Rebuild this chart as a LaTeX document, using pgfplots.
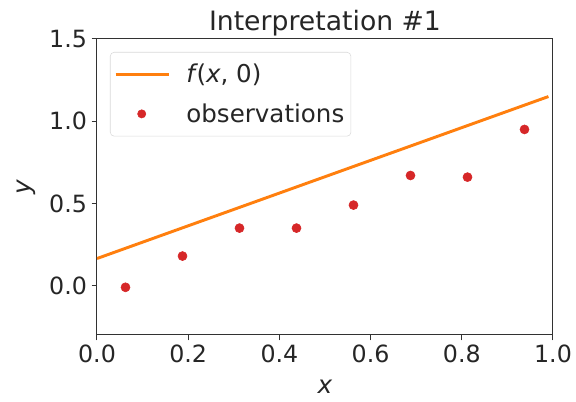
\documentclass[border=0pt]{standalone}
\usepackage{fontspec}
\setmainfont{DejaVu Sans}
\usepackage{pgfplots}
\pgfplotsset{compat=1.18}

\definecolor{lineorange}{RGB}{255,127,14}
\definecolor{dotred}{RGB}{214,39,40}
\definecolor{spinegray}{RGB}{50,50,50}

\begin{document}
\begin{tikzpicture}
\begin{axis}[
    at={(0,0)}, anchor=south west,
    scale only axis,
    width=342pt, height=222pt,
    xmin=0, xmax=1, ymin=-0.3, ymax=1.5,
    xtick={0,0.2,0.4,0.6,0.8,1.0},
    ytick={0,0.5,1.0,1.5},
    xticklabel style={/pgf/number format/fixed,/pgf/number format/fixed zerofill,/pgf/number format/precision=1},
    yticklabel style={/pgf/number format/fixed,/pgf/number format/fixed zerofill,/pgf/number format/precision=1},
    /pgf/number format/assume math mode=true,
    ticklabel style={font=\fontsize{17.8}{21}\selectfont, text=black!85},
    tick align=outside,
    tick pos=left,
    major tick length=4pt,
    tick style={spinegray, line width=0.75pt},
    axis line style={spinegray, line width=0.75pt},
    title={Interpretation \#1},
    title style={font=\fontsize{20}{24}\selectfont, text=black!85, at={(0.5,1)}, anchor=base, yshift=0.5pt},
    xlabel={\textit{x}},
    ylabel={\textit{y}},
    label style={font=\fontsize{18.5}{22}\selectfont, text=black!85},
    xlabel style={yshift=-6pt},
    ylabel style={yshift=3pt},
    legend style={
      at={(0,1)}, anchor=north west, xshift=9.75pt, yshift=-9.75pt,
      draw=black!15, rounded corners=3pt, fill=white, fill opacity=0.8, text opacity=1,
      font=\fontsize{18.4}{22}\selectfont, text=black!85,
      row sep=10pt, inner xsep=3pt, inner ysep=7pt,
      legend cell align=left,
    },
    legend image code/.code={
      \draw[#1] (0pt,0pt) -- (40pt,0pt);
      \path[draw=none] (0pt,0pt) -- (51pt,0pt);
    },
  ]
  \addplot[lineorange, line width=2.2pt] coordinates {(0,0.165) (0.99,1.150)};
  \addlegendentry{\textit{f}\kern-1.2pt(\textit{x}, 0)}
  \addplot[only marks, mark=*, mark size=3.4pt, dotred, mark options={draw=dotred, fill=dotred},
    legend image code/.code={
      \fill[dotred, fill opacity=1] (19.5pt,0pt) circle (3.1pt);
      \path[draw=none] (0pt,0pt) -- (51pt,0pt);
    }] coordinates {
    (0.0625,-0.01) (0.1875,0.18) (0.3125,0.35) (0.4375,0.35)
    (0.5625,0.49) (0.6875,0.67) (0.8125,0.66) (0.9375,0.95)};
  \addlegendentry{observations}
\end{axis}
\pgfresetboundingbox
\path[use as bounding box] (-72.75pt,-50.25pt) rectangle (359.25pt,251.25pt);
\end{tikzpicture}
\end{document}
